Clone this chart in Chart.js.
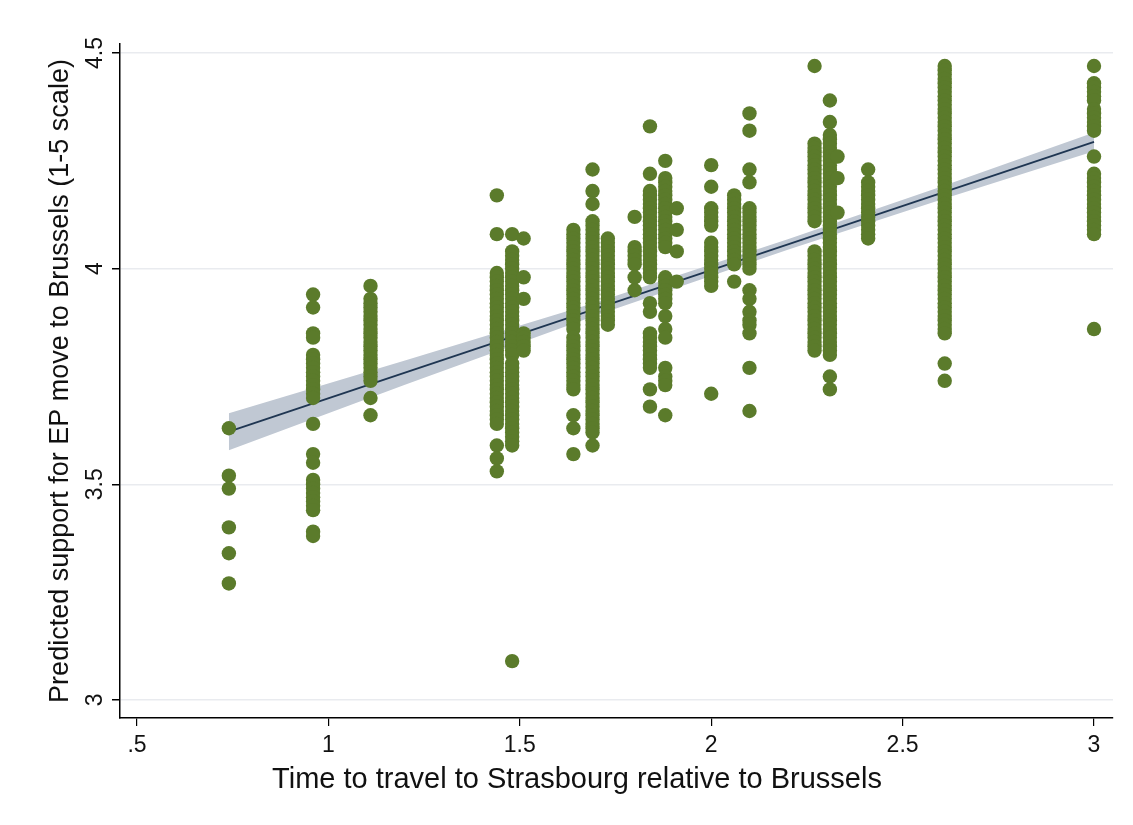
<!DOCTYPE html>
<html lang="en">
<head>
    <meta charset="UTF-8">
    <title>Predicted support for EP move to Brussels</title>
    <style>
        body {
            margin: 0;
            background: #fff;
        }
        #wrap {
            width: 1133px;
            height: 825px;
        }
    </style>
</head>
<body>
    <div id="wrap">
        <canvas id="chart" width="1133" height="825"></canvas>
    </div>

    <script src="https://cdn.jsdelivr.net/npm/chart.js"></script>
    <script>
        // x positions of the country columns (travel-time ratio)
        const colX = [0.74, 0.96, 1.11, 1.44, 1.48, 1.51, 1.64, 1.69, 1.73, 1.80, 1.84,
                      1.88, 1.91, 2.00, 2.06, 2.10, 2.27, 2.31, 2.33, 2.41, 2.61, 3.00];

        // predicted support values in each column (same order as colX)
        const col074 = [3.63, 3.52, 3.49, 3.40, 3.34, 3.27];
        const col096 = [3.94, 3.91, 3.85, 3.84, 3.80, 3.79, 3.78, 3.77, 3.76, 3.75, 3.74, 3.73, 3.72,
                        3.71, 3.70, 3.64, 3.57, 3.55, 3.51, 3.50, 3.49, 3.48, 3.47, 3.46, 3.45, 3.44,
                        3.39, 3.38];
        const col111 = [3.96, 3.93, 3.92, 3.91, 3.90, 3.89, 3.88, 3.87, 3.86, 3.85, 3.84, 3.83, 3.82,
                        3.81, 3.80, 3.79, 3.78, 3.77, 3.76, 3.75, 3.74, 3.70, 3.66];
        const col144 = [4.17, 4.08, 3.99, 3.98, 3.97, 3.96, 3.95, 3.94, 3.93, 3.92, 3.91, 3.90, 3.89,
                        3.88, 3.87, 3.86, 3.85, 3.84, 3.83, 3.82, 3.81, 3.80, 3.79, 3.78, 3.77, 3.76,
                        3.75, 3.74, 3.73, 3.72, 3.71, 3.70, 3.69, 3.68, 3.67, 3.66, 3.65, 3.64, 3.59,
                        3.56, 3.53];
        const col148 = [4.08, 4.04, 4.03, 4.02, 4.01, 4.00, 3.99, 3.98, 3.97, 3.96, 3.95, 3.94, 3.93,
                        3.92, 3.91, 3.90, 3.89, 3.88, 3.87, 3.86, 3.85, 3.84, 3.83, 3.82, 3.81, 3.80,
                        3.78, 3.77, 3.76, 3.75, 3.74, 3.73, 3.72, 3.71, 3.70, 3.69, 3.68, 3.67, 3.66,
                        3.65, 3.64, 3.63, 3.62, 3.61, 3.60, 3.59, 3.09];
        const col151 = [4.07, 3.98, 3.93, 3.85, 3.84, 3.83, 3.82, 3.81];
        const col164 = [4.09, 4.08, 4.07, 4.06, 4.05, 4.04, 4.03, 4.02, 4.01, 4.00, 3.99, 3.98, 3.97,
                        3.96, 3.95, 3.94, 3.93, 3.92, 3.91, 3.90, 3.89, 3.88, 3.87, 3.86, 3.84, 3.83,
                        3.82, 3.81, 3.80, 3.79, 3.78, 3.77, 3.76, 3.75, 3.74, 3.73, 3.72, 3.66, 3.63,
                        3.57];
        const col169 = [4.23, 4.18, 4.15, 4.11, 4.10, 4.09, 4.08, 4.07, 4.06, 4.05, 4.04, 4.03, 4.02,
                        4.01, 4.00, 3.99, 3.98, 3.97, 3.96, 3.95, 3.94, 3.93, 3.92, 3.91, 3.90, 3.89,
                        3.88, 3.87, 3.86, 3.85, 3.84, 3.83, 3.82, 3.81, 3.80, 3.79, 3.78, 3.77, 3.76,
                        3.75, 3.74, 3.73, 3.72, 3.71, 3.70, 3.69, 3.68, 3.67, 3.66, 3.65, 3.64, 3.63,
                        3.62, 3.59];
        const col173 = [4.07, 4.06, 4.05, 4.04, 4.03, 4.02, 4.01, 4.00, 3.99, 3.98, 3.97, 3.96, 3.95,
                        3.94, 3.93, 3.92, 3.91, 3.90, 3.89, 3.88, 3.87];
        const col180 = [4.12, 4.05, 4.04, 4.03, 4.02, 4.01, 3.98, 3.95];
        const col184 = [4.33, 4.22, 4.18, 4.17, 4.16, 4.15, 4.14, 4.13, 4.12, 4.11, 4.10, 4.09, 4.08,
                        4.07, 4.06, 4.05, 4.04, 4.03, 4.02, 4.01, 4.00, 3.99, 3.98, 3.92, 3.90, 3.85,
                        3.84, 3.83, 3.82, 3.81, 3.80, 3.79, 3.78, 3.77, 3.72, 3.68];
        const col188 = [4.25, 4.21, 4.20, 4.19, 4.18, 4.17, 4.16, 4.15, 4.14, 4.13, 4.12, 4.11, 4.10,
                        4.09, 4.08, 4.07, 4.06, 4.05, 3.98, 3.97, 3.96, 3.95, 3.94, 3.93, 3.92, 3.89,
                        3.86, 3.84, 3.77, 3.75, 3.74, 3.73, 3.66];
        const col191 = [4.14, 4.09, 4.04, 3.97];
        const col200 = [4.24, 4.19, 4.14, 4.13, 4.12, 4.11, 4.10, 4.06, 4.05, 4.04, 4.03, 4.02, 4.01,
                        4.00, 3.99, 3.98, 3.97, 3.96, 3.71];
        const col206 = [4.17, 4.16, 4.15, 4.14, 4.13, 4.12, 4.11, 4.10, 4.09, 4.08, 4.07, 4.06, 4.05,
                        4.04, 4.03, 4.02, 4.01, 3.97];
        const col210 = [4.36, 4.32, 4.23, 4.20, 4.14, 4.13, 4.12, 4.11, 4.10, 4.09, 4.08, 4.07, 4.06,
                        4.05, 4.04, 4.03, 4.02, 4.01, 4.00, 3.95, 3.93, 3.90, 3.88, 3.87, 3.85, 3.77,
                        3.67];
        const col227 = [4.47, 4.29, 4.28, 4.27, 4.26, 4.25, 4.24, 4.23, 4.22, 4.21, 4.20, 4.19, 4.18,
                        4.17, 4.16, 4.15, 4.14, 4.13, 4.12, 4.11, 4.04, 4.03, 4.02, 4.01, 4.00, 3.99,
                        3.98, 3.97, 3.96, 3.95, 3.94, 3.93, 3.92, 3.91, 3.90, 3.89, 3.88, 3.87, 3.86,
                        3.85, 3.84, 3.83, 3.82, 3.81];
        const col231 = [4.39, 4.34, 4.31, 4.30, 4.29, 4.28, 4.27, 4.26, 4.25, 4.24, 4.23, 4.22, 4.21,
                        4.20, 4.19, 4.18, 4.17, 4.16, 4.15, 4.14, 4.13, 4.12, 4.11, 4.10, 4.09, 4.08,
                        4.07, 4.06, 4.05, 4.04, 4.03, 4.02, 4.01, 4.00, 3.99, 3.98, 3.97, 3.96, 3.95,
                        3.94, 3.93, 3.92, 3.91, 3.90, 3.89, 3.88, 3.87, 3.86, 3.85, 3.84, 3.83, 3.82,
                        3.81, 3.80, 3.75, 3.72];
        const col233 = [4.26, 4.21, 4.13];
        const col241 = [4.23, 4.20, 4.19, 4.18, 4.17, 4.16, 4.15, 4.14, 4.13, 4.12, 4.11, 4.10, 4.09,
                        4.08, 4.07];
        const col261 = [4.47, 4.46, 4.45, 4.44, 4.43, 4.42, 4.41, 4.40, 4.39, 4.38, 4.37, 4.36, 4.35,
                        4.34, 4.33, 4.32, 4.31, 4.30, 4.29, 4.28, 4.27, 4.26, 4.25, 4.24, 4.23, 4.22,
                        4.21, 4.20, 4.19, 4.18, 4.17, 4.16, 4.15, 4.14, 4.13, 4.12, 4.11, 4.10, 4.09,
                        4.08, 4.07, 4.06, 4.05, 4.04, 4.03, 4.02, 4.01, 4.00, 3.99, 3.98, 3.97, 3.96,
                        3.95, 3.94, 3.93, 3.92, 3.91, 3.90, 3.89, 3.88, 3.87, 3.86, 3.85, 3.78, 3.74];
        const col300 = [4.47, 4.43, 4.42, 4.41, 4.40, 4.39, 4.37, 4.36, 4.35, 4.34, 4.33, 4.32, 4.26,
                        4.22, 4.21, 4.20, 4.19, 4.18, 4.17, 4.16, 4.15, 4.14, 4.13, 4.12, 4.11, 4.10,
                        4.09, 4.08, 3.86];

        const colY = [col074, col096, col111, col144, col148, col151, col164, col169, col173, col180,
                      col184, col188, col191, col200, col206, col210, col227, col231, col233, col241,
                      col261, col300];

        // fitted line and its confidence band
        const fitX = [0.74, 3.00];
        const fitY = [3.622, 4.294];
        const bandX = [0.74, 1.2, 1.7, 2.2, 2.6, 3.0];
        const bandHi = [3.665, 3.787, 3.922, 4.068, 4.190, 4.316];
        const bandLo = [3.579, 3.731, 3.892, 4.044, 4.160, 4.272];

        // axis ticks
        const xTicks = [0.5, 1, 1.5, 2, 2.5, 3];
        const xTickLabels = ['.5', '1', '1.5', '2', '2.5', '3'];
        const yTicks = [3, 3.5, 4, 4.5];
        const yTickLabels = ['3', '3.5', '4', '4.5'];

        const xTitle = 'Time to travel to Strasbourg relative to Brussels';
        const yTitle = 'Predicted support for EP move to Brussels (1-5 scale)';

        const points = [];
        colX.forEach((x, i) => {
            colY[i].forEach(y => points.push({ x: x, y: y }));
        });

        const fitPts = fitX.map((x, i) => ({ x: x, y: fitY[i] }));
        const hiPts = bandX.map((x, i) => ({ x: x, y: bandHi[i] }));
        const loPts = bandX.map((x, i) => ({ x: x, y: bandLo[i] }));

        const FONT = '"Liberation Sans", Arial, sans-serif';
        const GREEN = '#5b7b2b';

        // x-axis title sits a bit left of the plot centre in the original
        const xTitlePlugin = {
            id: 'xTitle',
            afterDraw(chart) {
                const ctx = chart.ctx;
                ctx.save();
                ctx.font = '29px ' + FONT;
                ctx.fillStyle = '#111';
                ctx.textAlign = 'center';
                ctx.textBaseline = 'middle';
                ctx.fillText(xTitle, 577, 780);
                ctx.restore();
            }
        };

        new Chart(document.getElementById('chart'), {
            type: 'scatter',
            data: {
                datasets: [
                    {
                        data: points,
                        backgroundColor: GREEN,
                        borderColor: GREEN,
                        borderWidth: 0,
                        pointRadius: 7.2
                    },
                    {
                        data: fitPts,
                        showLine: true,
                        borderColor: '#1f3652',
                        borderWidth: 1.8,
                        pointRadius: 0
                    },
                    {
                        data: hiPts,
                        showLine: true,
                        borderWidth: 0,
                        borderColor: 'rgba(0,0,0,0)',
                        backgroundColor: '#c0c8d3',
                        pointRadius: 0,
                        fill: '+1'
                    },
                    {
                        data: loPts,
                        showLine: true,
                        borderWidth: 0,
                        borderColor: 'rgba(0,0,0,0)',
                        pointRadius: 0
                    }
                ]
            },
            options: {
                responsive: false,
                animation: false,
                layout: {
                    padding: { left: 40, right: 20, top: 44, bottom: 0 }
                },
                plugins: {
                    legend: { display: false },
                    tooltip: { enabled: false }
                },
                scales: {
                    x: {
                        type: 'linear',
                        min: 0.4556,
                        max: 3.0496,
                        afterFit: function(scale) { scale.height = 107; },
                        afterBuildTicks: function(scale) {
                            scale.ticks = xTicks.map(v => ({ value: v }));
                        },
                        border: { display: true, color: '#000', width: 1.5 },
                        grid: {
                            drawOnChartArea: false,
                            drawTicks: true,
                            tickLength: 8,
                            color: '#000',
                            lineWidth: 1.2
                        },
                        ticks: {
                            padding: 6,
                            maxRotation: 0,
                            color: '#111',
                            font: { family: FONT, size: 23 },
                            callback: function(value) {
                                const i = xTicks.indexOf(value);
                                return i >= 0 ? xTickLabels[i] : '';
                            }
                        },
                        title: { display: false }
                    },
                    y: {
                        type: 'linear',
                        min: 2.958,
                        max: 4.521,
                        afterFit: function(scale) { scale.width = 80; },
                        afterBuildTicks: function(scale) {
                            scale.ticks = yTicks.map(v => ({ value: v }));
                        },
                        border: { display: true, color: '#000', width: 1.5 },
                        grid: {
                            color: '#e9ebef',
                            lineWidth: 1.5,
                            tickColor: '#000',
                            tickLength: 8
                        },
                        ticks: {
                            padding: 0,
                            minRotation: 90,
                            maxRotation: 90,
                            crossAlign: 'center',
                            color: '#111',
                            font: { family: FONT, size: 23 },
                            callback: function(value) {
                                const i = yTicks.indexOf(value);
                                return i >= 0 ? yTickLabels[i] : '';
                            }
                        },
                        title: {
                            display: true,
                            text: yTitle,
                            color: '#111',
                            font: { family: FONT, size: 27 },
                            padding: { top: 4, bottom: 0 }
                        }
                    }
                }
            },
            plugins: [xTitlePlugin]
        });
    </script>
</body>
</html>
